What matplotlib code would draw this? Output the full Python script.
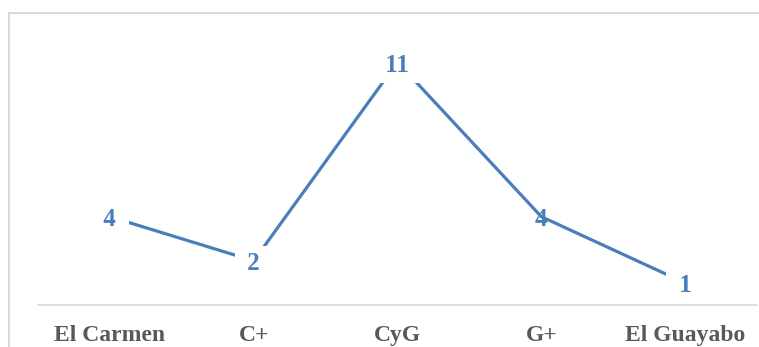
import matplotlib.pyplot as plt
from matplotlib.patches import Rectangle
from matplotlib.transforms import ScaledTranslation

categories = ["El Carmen", "C+", "CyG", "G+", "El Guayabo"]
values = [4, 2, 11, 4, 1]
# labels drawn with a white box that hides the line behind them
boxed = [True, True, True, False, True]

line_color = "#4a7ebb"
text_color = "#595959"
grid_color = "#d9d9d9"

plt.rcParams["font.family"] = ["Liberation Serif", "DejaVu Serif"]

fig = plt.figure(figsize=(7.59, 3.47), dpi=100)
W, H = 759, 347
ax = fig.add_axes([38 / W, 1 - 305 / H, (757 - 38) / W, (305 - 40) / H])

x = list(range(len(categories)))
ax.plot(x, values, color=line_color, linewidth=2.3, solid_capstyle="butt", zorder=2)

# nudge the value labels a few pixels down
label_shift = ax.transData + ScaledTranslation(0, -0.03, fig.dpi_scale_trans)
for xi, v, b in zip(x, values, boxed):
    if b:
        # spaces widen the white box sideways
        ax.text(xi, v, f" {v} ", ha="center", va="center", fontsize=18, fontweight="bold",
                color=line_color, zorder=3, transform=label_shift,
                bbox=dict(boxstyle="square,pad=0.25", facecolor="white", edgecolor="none"))
    else:
        ax.text(xi, v, str(v), ha="center", va="center", fontsize=18, fontweight="bold",
                color=line_color, zorder=3, transform=label_shift)

ax.set_xlim(-0.5, len(categories) - 0.5)
ax.set_ylim(0, 12)
ax.set_xticks(x)
ax.set_xticklabels(categories, fontsize=17, fontweight="bold", color=text_color)
ax.tick_params(axis="x", length=0, pad=14.5)
ax.set_yticks([])
for side in ["left", "right", "top"]:
    ax.spines[side].set_visible(False)
ax.spines["bottom"].set_color(grid_color)
ax.spines["bottom"].set_linewidth(1.2)
ax.spines["bottom"].set_zorder(1)

# outer chart border, running off the right and bottom edges
fig.patches.append(Rectangle((9 / W, -0.1), 1.0, 1 - 13 / H + 0.1,
                             transform=fig.transFigure, fill=False,
                             edgecolor=grid_color, linewidth=1.4))

fig.savefig("out.png", dpi=100, facecolor="white")
